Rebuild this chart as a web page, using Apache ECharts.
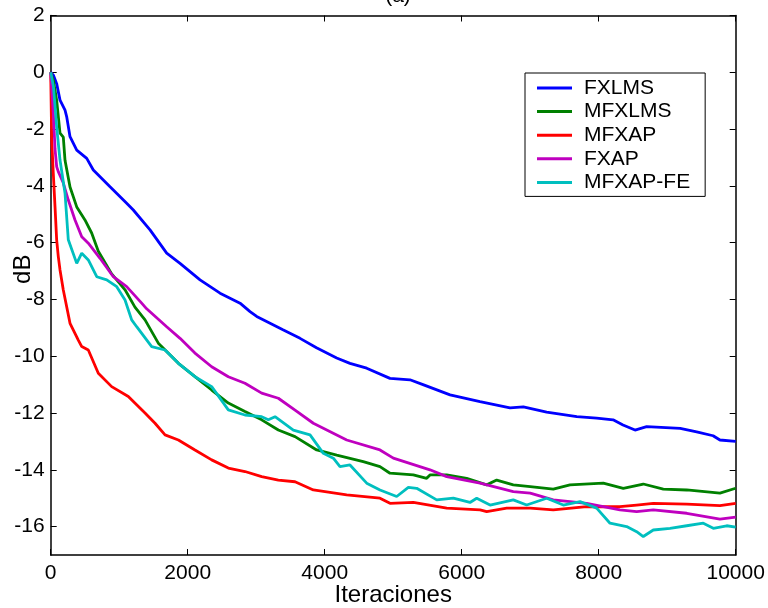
<!DOCTYPE html>
<html>
<head>
<meta charset="utf-8">
<script src="https://cdn.jsdelivr.net/npm/echarts@6/dist/echarts.min.js"></script>
<style>
  html, body { margin: 0; padding: 0; background: #fff; }
  #chart { width: 768px; height: 608px; }
</style>
</head>
<body>
<div id="chart"></div>
<script>
// Learning curves: residual error (dB) versus iteration for five adaptive algorithms
const seriesNames = ['FXLMS', 'MFXLMS', 'MFXAP', 'FXAP', 'MFXAP-FE'];

const fxlmsIter = [0, 40, 87, 136, 209, 233, 282, 380, 526, 622, 866, 1109, 1206, 1450, 1693, 1888, 2180, 2472, 2764, 2910, 3007, 3390, 3640, 3880, 4175, 4369, 4613, 4953, 5245, 5435, 5830, 6267, 6705, 6900, 7240, 7680, 7970, 8210, 8355, 8530, 8700, 9190, 9430, 9670, 9770, 10000];
const fxlmsDb   = [0, -0.1, -0.4, -0.98, -1.33, -1.56, -2.27, -2.74, -3.03, -3.44, -4.03, -4.61, -4.85, -5.55, -6.37, -6.73, -7.31, -7.78, -8.13, -8.43, -8.6, -9.07, -9.37, -9.7, -10.06, -10.25, -10.42, -10.78, -10.83, -11.0, -11.36, -11.6, -11.82, -11.78, -11.97, -12.13, -12.18, -12.24, -12.42, -12.6, -12.48, -12.54, -12.66, -12.8, -12.95, -13.0];

const mfxlmsIter = [0, 40, 87, 136, 184, 209, 282, 380, 500, 598, 695, 890, 1085, 1230, 1377, 1571, 1864, 2106, 2350, 2593, 2836, 3080, 3323, 3567, 3883, 4175, 4563, 4807, 4953, 5294, 5489, 5537, 5781, 6073, 6365, 6511, 6753, 7000, 7337, 7581, 8067, 8359, 8651, 8943, 9285, 9770, 10000];
const mfxlmsDb   = [0, -0.3, -0.98, -2.14, -2.28, -3.1, -4.04, -4.74, -5.2, -5.66, -6.3, -7.1, -7.66, -8.27, -8.72, -9.54, -10.25, -10.72, -11.19, -11.65, -11.95, -12.24, -12.6, -12.83, -13.3, -13.48, -13.71, -13.89, -14.12, -14.18, -14.3, -14.18, -14.18, -14.3, -14.53, -14.36, -14.53, -14.59, -14.68, -14.53, -14.47, -14.65, -14.5, -14.68, -14.71, -14.82, -14.65];

const mfxapIter = [0, 15, 38, 63, 87, 111, 136, 184, 282, 403, 453, 549, 695, 890, 1133, 1377, 1523, 1669, 1864, 2106, 2350, 2593, 2836, 3080, 3323, 3567, 3834, 4321, 4807, 4953, 5294, 5781, 6268, 6365, 6657, 7000, 7337, 7824, 8310, 8554, 8797, 9285, 9770, 10000];
const mfxapDb   = [0, -2.4, -3.56, -4.73, -5.9, -6.49, -6.96, -7.67, -8.84, -9.43, -9.66, -9.78, -10.6, -11.07, -11.42, -12.0, -12.36, -12.77, -12.95, -13.3, -13.65, -13.94, -14.06, -14.24, -14.36, -14.42, -14.71, -14.88, -15.0, -15.18, -15.15, -15.35, -15.41, -15.47, -15.35, -15.35, -15.41, -15.3, -15.3, -15.24, -15.18, -15.21, -15.26, -15.18];

const fxapIter = [0, 40, 63, 87, 111, 184, 257, 355, 453, 549, 720, 914, 1109, 1328, 1401, 1693, 1888, 2106, 2350, 2593, 2836, 3080, 3323, 3567, 3834, 4321, 4807, 5002, 5537, 5781, 6268, 6753, 7000, 7337, 7824, 8310, 8554, 8797, 9285, 9770, 10000];
const fxapDb   = [0, -1.5, -2.7, -3.32, -3.5, -3.9, -4.5, -5.2, -5.79, -6.02, -6.55, -7.2, -7.55, -8.13, -8.33, -8.96, -9.37, -9.89, -10.37, -10.72, -10.95, -11.3, -11.48, -11.9, -12.36, -12.95, -13.3, -13.59, -14.0, -14.24, -14.47, -14.77, -14.82, -15.06, -15.18, -15.41, -15.47, -15.41, -15.53, -15.74, -15.67];

const mfxapFeIter = [0, 40, 87, 136, 209, 257, 380, 453, 549, 672, 818, 964, 1085, 1182, 1255, 1474, 1669, 1864, 2106, 2350, 2593, 2836, 3080, 3177, 3275, 3542, 3786, 3980, 4126, 4223, 4369, 4613, 4807, 5051, 5221, 5343, 5635, 5878, 6121, 6219, 6414, 6753, 6948, 7241, 7483, 7727, 7970, 8165, 8408, 8554, 8651, 8797, 9041, 9285, 9527, 9673, 9868, 10000];
const mfxapFeDb   = [0, -0.5, -1.92, -3.09, -4.26, -5.9, -6.73, -6.37, -6.61, -7.2, -7.31, -7.55, -8.02, -8.72, -8.96, -9.66, -9.78, -10.25, -10.72, -11.07, -11.89, -12.07, -12.13, -12.24, -12.13, -12.6, -12.77, -13.42, -13.59, -13.89, -13.83, -14.47, -14.71, -14.94, -14.62, -14.65, -15.06, -15.0, -15.15, -15.0, -15.24, -15.06, -15.24, -15.0, -15.24, -15.12, -15.35, -15.88, -16.0, -16.18, -16.35, -16.12, -16.06, -15.97, -15.88, -16.06, -15.97, -16.02];

const xTicks = [0, 2000, 4000, 6000, 8000, 10000];
const yTicks = [-16, -14, -12, -10, -8, -6, -4, -2, 0, 2];

const seriesColors = ['#0000ff', '#008000', '#ff0000', '#bf00bf', '#00bfbf'];

const pairs = (xs, ys) => xs.map((x, i) => [x, ys[i]]);
const curves = [
  pairs(fxlmsIter, fxlmsDb),
  pairs(mfxlmsIter, mfxlmsDb),
  pairs(mfxapIter, mfxapDb),
  pairs(fxapIter, fxapDb),
  pairs(mfxapFeIter, mfxapFeDb)
];

const FONT = "'Liberation Sans', Arial, Helvetica, sans-serif";
const axisLine = { show: true, onZero: false, lineStyle: { color: '#000', width: 1.5 } };
const tickIn = { show: true, inside: true, length: 6, lineStyle: { color: '#000', width: 1 } };
const plain = v => String(v);

const chart = echarts.init(document.getElementById('chart'), null, { renderer: 'canvas' });

chart.setOption({
  animation: false,
  backgroundColor: '#fff',
  title: {
    text: '(a)',
    left: 393,
    top: -19,
    textAlign: 'center',
    textStyle: { fontFamily: FONT, fontSize: 21, fontWeight: 'normal', color: '#000' }
  },
  grid: { left: 50.7, right: 32.3, top: 15.5, bottom: 53, containLabel: false, outerBoundsMode: 'none' },
  legend: {
    orient: 'vertical',
    left: 525,
    top: 73,
    data: seriesNames,
    icon: 'rect',
    itemWidth: 35,
    itemHeight: 3,
    itemGap: 1.6,
    padding: [4, 15, 3, 12],
    borderColor: '#000',
    borderWidth: 1,
    backgroundColor: '#fff',
    textStyle: { fontFamily: FONT, fontSize: 21, color: '#000', lineHeight: 22, padding: [0, 0, 0, 7] }
  },
  xAxis: [
    {
      type: 'value', position: 'bottom', min: 0, max: 10000, interval: 2000,
      name: 'Iteraciones', nameLocation: 'middle', nameGap: 28, nameMoveOverlap: false,
      nameTextStyle: { fontFamily: FONT, fontSize: 24, color: '#000' },
      axisLine, axisTick: tickIn, splitLine: { show: false },
      axisLabel: { customValues: xTicks, formatter: plain, fontFamily: FONT, fontSize: 21, color: '#000', margin: 8 }
    },
    {
      type: 'value', position: 'top', min: 0, max: 10000, interval: 2000,
      axisLine, axisTick: tickIn, splitLine: { show: false }, axisLabel: { show: false }
    }
  ],
  yAxis: [
    {
      type: 'value', position: 'left', min: -17, max: 2,
      name: 'dB', nameLocation: 'middle', nameGap: 15, nameMoveOverlap: false,
      nameTextStyle: { fontFamily: FONT, fontSize: 24, color: '#000', padding: [0, 0, 0, 32] },
      axisLine,
      axisTick: Object.assign({ customValues: yTicks }, tickIn),
      splitLine: { show: false },
      axisLabel: { customValues: yTicks, formatter: plain, fontFamily: FONT, fontSize: 21, color: '#000', margin: 6 }
    },
    {
      type: 'value', position: 'right', min: -17, max: 2,
      axisLine,
      axisTick: Object.assign({ customValues: yTicks }, tickIn),
      splitLine: { show: false },
      axisLabel: { show: false, customValues: yTicks }
    }
  ],
  series: seriesNames.map((name, i) => ({
    name,
    type: 'line',
    data: curves[i],
    symbol: 'none',
    showSymbol: false,
    smooth: false,
    color: seriesColors[i],
    lineStyle: { color: seriesColors[i], width: 2.8 },
    z: 2 + i
  }))
});
</script>
</body>
</html>
